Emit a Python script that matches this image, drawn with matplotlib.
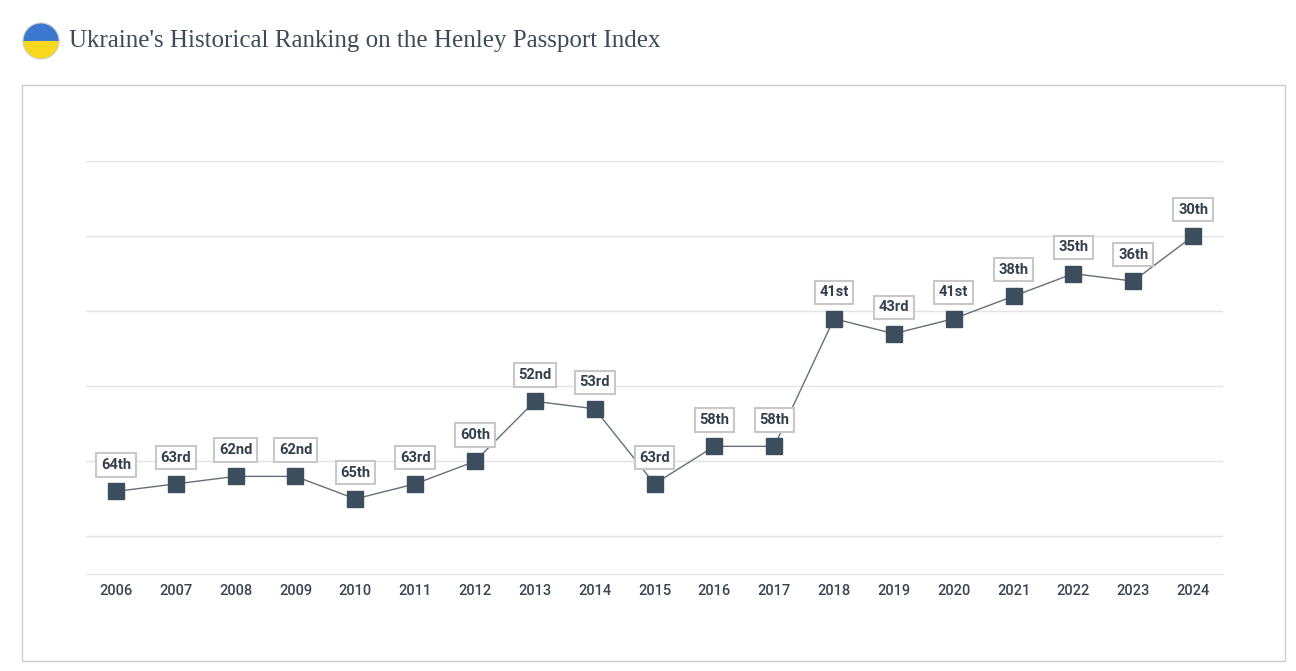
import numpy as np
import matplotlib.pyplot as plt
from matplotlib.patches import Rectangle, Circle, Wedge

years = list(range(2006, 2025))
ranks = [64, 63, 62, 62, 65, 63, 60, 52, 53, 63, 58, 58, 41, 43, 41, 38, 35, 36, 30]
labels = ['64th', '63rd', '62nd', '62nd', '65th', '63rd', '60th', '52nd', '53rd', '63rd',
          '58th', '58th', '41st', '43rd', '41st', '38th', '35th', '36th', '30th']

W, H = 1296, 671
fig = plt.figure(figsize=(W / 100, H / 100), dpi=100)
fig.patch.set_facecolor('white')

# card frame
fig.patches.append(Rectangle((22 / W, 1 - 661 / H), (1285 - 22) / W, (661 - 85) / H,
                             transform=fig.transFigure, facecolor='white',
                             edgecolor='#cccccc', linewidth=1, zorder=-5))

# flag + title
fax = fig.add_axes([22 / W, 1 - 61 / H, 38 / W, 40 / H])
fax.set_xlim(-1, 1); fax.set_ylim(-1, 1); fax.set_aspect('equal'); fax.axis('off')
fax.add_patch(Wedge((0, 0), 0.95, 0, 180, facecolor='#3d78d0'))
fax.add_patch(Wedge((0, 0), 0.95, 180, 360, facecolor='#f8d81c'))
fax.add_patch(Circle((0, 0), 0.95, fill=False, edgecolor='#cfcfcf', linewidth=0.8))
fig.text(69 / W, 1 - 41 / H, "Ukraine's Historical Ranking on the Henley Passport Index",
         family='Liberation Serif', fontsize=18, color='#3d4a57', va='center', ha='left')

ax = fig.add_axes([86 / W, 1 - 574 / H, (1223 - 86) / W, (574 - 161) / H])
ax.patch.set_alpha(0)
ax.set_zorder(2)
ax.set_xlim(2005.5, 2024.5)
ax.set_ylim(75, 20)
ax.set_yticks([20, 30, 40, 50, 60, 70])
ax.yaxis.grid(True, color='#e3e3e3', linewidth=1)
ax.set_axisbelow(True)
ax.tick_params(axis='y', left=False, labelleft=False)
ax.tick_params(axis='x', length=0, pad=7, labelsize=10.5, labelcolor='#3a4450')
ax.set_xticks(years)
for lab in ax.get_xticklabels():
    lab.set_family('Roboto')
    lab.set_fontweight('medium')
for s in ['top', 'left', 'right']:
    ax.spines[s].set_visible(False)
ax.spines['bottom'].set_color('#e3e3e3')

ax.plot(years, ranks, color='#666f78', linewidth=1, zorder=2)
ax.plot(years, ranks, 's', color='#3c4d5e', markersize=11, zorder=3, linestyle='none')
for x, y, t in zip(years, ranks, labels):
    ax.annotate(t, (x, y), xytext=(0, 19), textcoords='offset points', ha='center', va='center',
                family='Roboto', fontweight='bold', fontsize=10.5, color='#333f4b',
                bbox=dict(boxstyle='square,pad=0.32', facecolor='white', edgecolor='#c8c8c8', linewidth=1.5),
                zorder=4)

fig.savefig('out.png', dpi=100)
